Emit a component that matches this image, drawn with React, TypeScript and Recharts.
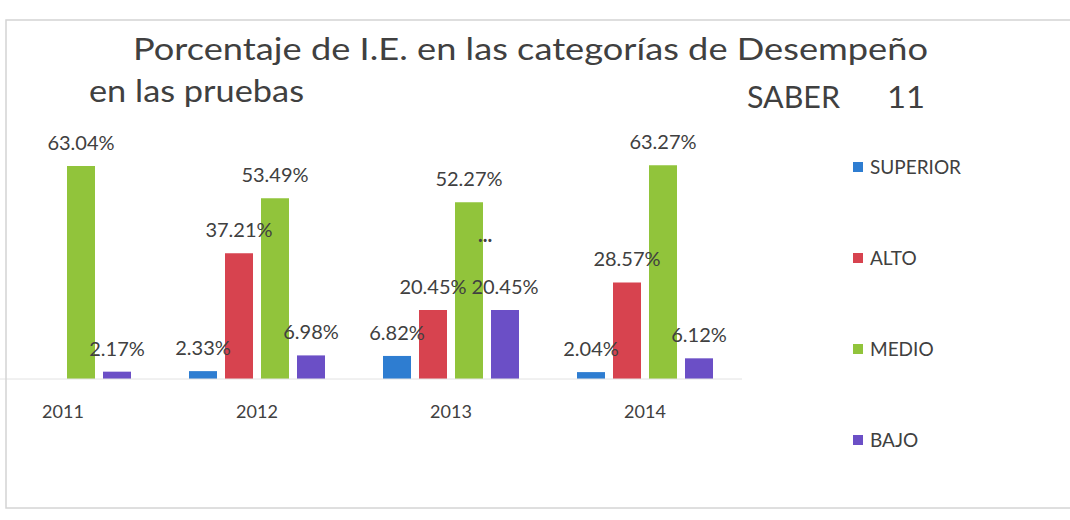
import { BarChart, Bar, XAxis, YAxis, Legend, LabelList } from 'recharts';

const years = ['2011', '2012', '2013', '2014'];
const superior = [null, 2.33, 6.82, 2.04];
const alto = [null, 37.21, 20.45, 28.57];
const medio = [63.04, 53.49, 52.27, 63.27];
const bajo = [2.17, 6.98, 20.45, 6.12];

const seriesNames = ['SUPERIOR', 'ALTO', 'MEDIO', 'BAJO'];
const seriesColors = ['#2E7DD1', '#D7434F', '#91C43B', '#6B4FC6'];
const seriesValues = [superior, alto, medio, bajo];

const data = years.map((year, i) => {
  const row: Record<string, string | number | null> = { year };
  seriesNames.forEach((name, s) => {
    row[name] = seriesValues[s][i];
  });
  return row;
});

const FONT = 'Lato, "Open Sans", sans-serif';
const TEXT = '#404040';

const fmt = (v: any) => (v == null ? '' : `${Number(v).toFixed(2)}%`);

function LegendList({ payload }: any) {
  // recharts sorts legend items by name; keep series order instead
  const items = [...(payload || [])].sort(
    (a: any, b: any) => seriesNames.indexOf(a.value) - seriesNames.indexOf(b.value)
  );
  return (
    <div style={{ fontFamily: FONT }}>
      {items.map((entry: any) => (
        <div key={entry.value} style={{ height: 91, display: 'flex', alignItems: 'flex-start' }}>
          <span style={{ width: 10, height: 10, background: entry.color, marginTop: 6, marginRight: 7 }} />
          <span style={{ fontSize: 19, lineHeight: '22px', color: TEXT }}>{entry.value}</span>
        </div>
      ))}
    </div>
  );
}

export default function App() {
  return (
    <div style={{ position: 'absolute', left: 0, top: 0, width: 1070, height: 520, overflow: 'hidden', background: '#fff' }}>
      {/* plot starts off the left edge, like the cropped scan */}
      <div style={{ position: 'absolute', left: -34, top: 0 }}>
        <BarChart
          width={1104}
          height={520}
          data={data}
          margin={{ top: 41, right: 328, bottom: 101, left: 0 }}
          barSize={28}
          barGap={8}
          style={{ fontFamily: FONT }}
        >
          <XAxis
            dataKey="year"
            height={40}
            axisLine={{ stroke: '#e2e2e2' }}
            tickLine={false}
            tickSize={0}
            tickMargin={26}
            tick={{ fill: TEXT, fontSize: 18 }}
          />
          <YAxis hide domain={[0, 100]} />
          <Legend
            layout="vertical"
            align="center"
            verticalAlign="middle"
            wrapperStyle={{ left: 887, top: 156, width: 180 }}
            content={<LegendList />}
          />
          {seriesNames.map((name, s) => (
            <Bar key={name} dataKey={name} fill={seriesColors[s]} isAnimationActive={false}>
              <LabelList dataKey={name} position="top" offset={16} formatter={fmt} fill={TEXT} fontSize={20} />
            </Bar>
          ))}
        </BarChart>
      </div>
      <svg width={1070} height={520} style={{ position: 'absolute', left: 0, top: 0, pointerEvents: 'none' }}>
        <rect x={6} y={20} width={1080} height={488} fill="none" stroke="#d4d4d4" strokeWidth={1.5} />
        <g fontFamily={FONT} fontSize={31} fill={TEXT}>
          <text x={133} y={60} textLength={795} lengthAdjust="spacingAndGlyphs">
            Porcentaje de I.E. en las categorías de Desempeño
          </text>
          <text x={89} y={102} textLength={215} lengthAdjust="spacingAndGlyphs">
            en las pruebas
          </text>
          <text x={747} y={108} textLength={93} lengthAdjust="spacingAndGlyphs">
            SABER
          </text>
          <text x={887} y={108} textLength={38} lengthAdjust="spacingAndGlyphs">
            11
          </text>
        </g>
        <text x={485} y={242} textAnchor="middle" fontFamily={FONT} fontSize={20} fontWeight="bold" fill={TEXT}>
          ...
        </text>
      </svg>
    </div>
  );
}
